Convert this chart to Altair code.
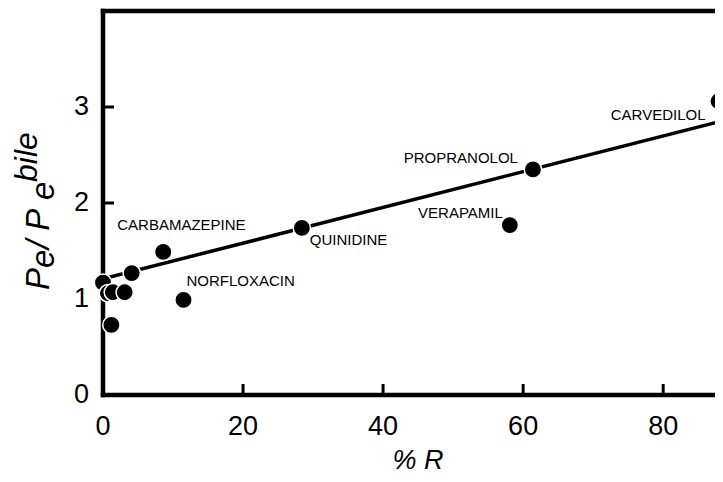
import altair as alt
import pandas as pd

# ---- data ----
names = ["", "", "", "", "", "",
         "CARBAMAZEPINE", "NORFLOXACIN", "QUINIDINE",
         "VERAPAMIL", "PROPRANOLOL", "CARVEDILOL"]
pct_r = [0.0, 0.7, 1.4, 3.1, 4.1, 1.2,
         8.6, 11.5, 28.4, 58.1, 61.4, 87.9]
ratio = [1.17, 1.06, 1.07, 1.07, 1.27, 0.73,
         1.49, 0.99, 1.74, 1.77, 2.35, 3.06]
fit_x = [0, 100]
fit_y = [1.21, 3.07]
x_tick_values = [0, 20, 40, 60, 80]
y_tick_values = [0, 1, 2, 3]
x_inner_ticks = [20, 40, 60, 80]
y_inner_ticks = [1, 2, 3]

FONT = "Liberation Sans"
W, H = 612, 384
xs = alt.Scale(domain=[0, 87.4], nice=False, zero=False)
ys = alt.Scale(domain=[0, 4], nice=False, zero=False)

pts = pd.DataFrame({"name": names, "pct_r": pct_r, "ratio": ratio})
fit = pd.DataFrame({"pct_r": fit_x, "ratio": fit_y})
one = pd.DataFrame({"k": [0]})


def X(field):
    return alt.X(field, scale=xs, axis=None)


def Y(field):
    return alt.Y(field, scale=ys, axis=None)


# frame lines (left, bottom, top)
frame_style = dict(color="black", strokeWidth=4.5, strokeCap="square")
left_line = alt.Chart(one).mark_rule(**frame_style).encode(
    x=alt.value(0), y=alt.value(0), y2=alt.value(H))
bottom_line = alt.Chart(one).mark_rule(**frame_style).encode(
    x=alt.value(0), x2=alt.value(W), y=alt.value(H))
top_line = alt.Chart(one).mark_rule(**frame_style).encode(
    x=alt.value(0), x2=alt.value(W), y=alt.value(0))

# inward ticks
x_ticks = alt.Chart(pd.DataFrame({"v": x_inner_ticks})).mark_rule(
    color="black", strokeWidth=3).encode(
    x=X("v:Q"), y=alt.value(H), y2=alt.value(H - 11))
y_ticks = alt.Chart(pd.DataFrame({"v": y_inner_ticks})).mark_rule(
    color="black", strokeWidth=3).encode(
    y=Y("v:Q"), x=alt.value(0), x2=alt.value(11))

# tick labels
x_labels = alt.Chart(pd.DataFrame({"v": x_tick_values})).mark_text(
    font=FONT, fontSize=27, color="black", align="center",
    baseline="alphabetic").encode(
    x=X("v:Q"), y=alt.value(H + 40), text=alt.Text("v:Q", format="d"))
y_labels = alt.Chart(pd.DataFrame({"v": y_tick_values})).mark_text(
    font=FONT, fontSize=27, color="black", align="right",
    baseline="middle").encode(
    y=Y("v:Q"), x=alt.value(-14), text=alt.Text("v:Q", format="d"))

# x title
x_title = alt.Chart(one).mark_text(
    text="% R", font=FONT, fontSize=27, fontStyle="italic", color="black",
    align="center", baseline="alphabetic").encode(
    x=alt.value(315), y=alt.value(H + 74))

line = alt.Chart(fit).mark_line(color="black", strokeWidth=3.5, clip=True).encode(
    x=X("pct_r:Q"), y=Y("ratio:Q"))

points = alt.Chart(pts).mark_circle(size=300, color="black", stroke="white",
                                    strokeWidth=1.5, opacity=1).encode(
    x=X("pct_r:Q"), y=Y("ratio:Q"))

label_style = {
    "CARBAMAZEPINE": ("left", -46, -22),
    "NORFLOXACIN": ("left", 3, -14),
    "QUINIDINE": ("left", 8, 17),
    "VERAPAMIL": ("right", -7, -7),
    "PROPRANOLOL": ("right", -15, -6),
    "CARVEDILOL": ("right", -13, 19),
}
labels = []
for nm, (al, ddx, ddy) in label_style.items():
    labels.append(
        alt.Chart(pts).transform_filter(alt.datum.name == nm).mark_text(
            align=al, dx=ddx, dy=ddy, baseline="alphabetic", font=FONT,
            fontSize=15, color="black").encode(
            x=X("pct_r:Q"), y=Y("ratio:Q"), text="name:N")
    )


# y-axis title built from pieces (sub/superscripts)
def piece(txt, px, py, size=33):
    return alt.Chart(one).mark_text(
        text=txt, angle=270, align="left", baseline="alphabetic", font=FONT,
        fontSize=size, fontStyle="italic", color="black").encode(
        x=alt.value(px), y=alt.value(py))


ytitle = [
    piece("P", -54, 279),
    piece("e", -49, 257),
    piece("\u00a0/\u00a0P", -54, 238),
    piece("e", -49, 189),
    piece("bile", -66, 171, 32),
]

chart = alt.layer(
    x_ticks, y_ticks, line, left_line, bottom_line, top_line, points,
    x_labels, y_labels, x_title, *labels, *ytitle,
).properties(
    width=W, height=H,
    background="white",
    autosize=alt.AutoSizeParams(type="none"),
    padding={"left": 95, "top": 3, "right": 0, "bottom": 79},
).configure_view(stroke=None)

chart.save("out.html", embed_options={"renderer": "svg", "actions": False})
